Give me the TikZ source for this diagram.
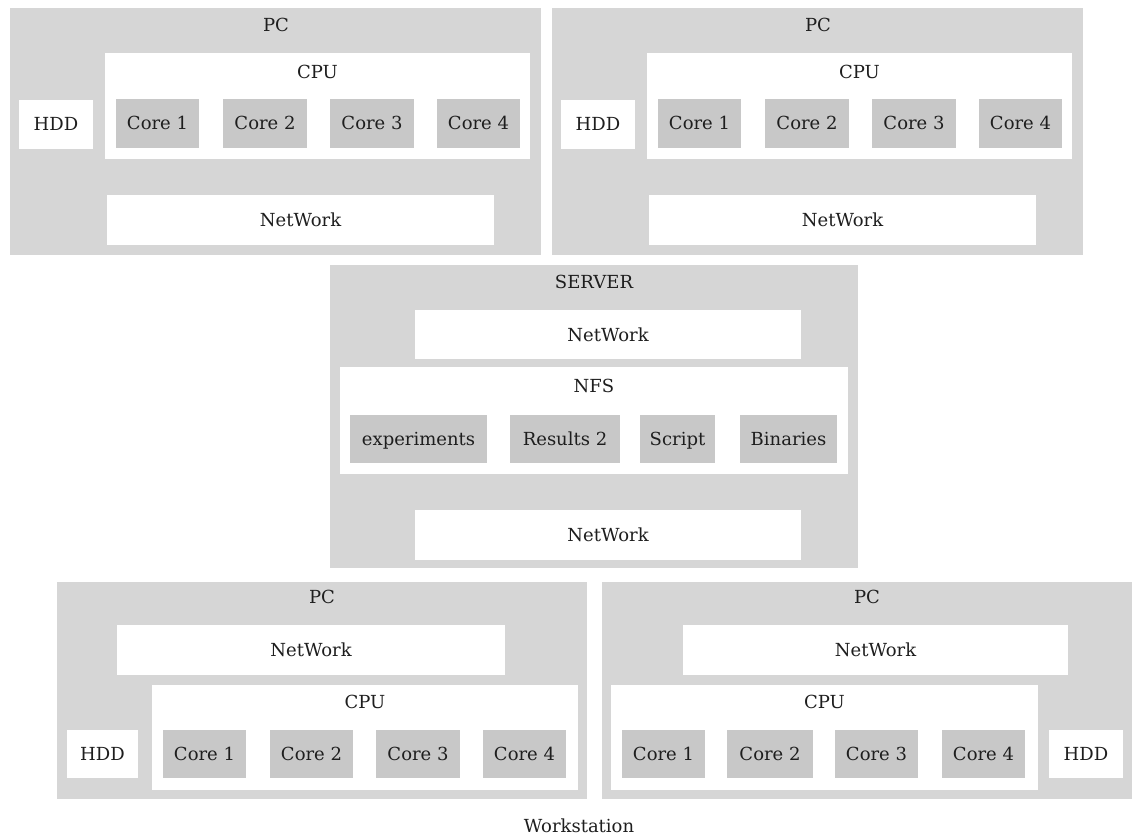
\documentclass[tikz,border=0pt]{standalone}
\usepackage{fontspec}
\setmainfont{DejaVu Serif}
\definecolor{shell}{RGB}{214,214,214}
\definecolor{unitgray}{RGB}{200,200,200}
\definecolor{ink}{RGB}{30,30,30}

\tikzset{
  blk/.style={rectangle, inner sep=0pt, outer sep=0pt, draw=none,
    font=\fontsize{18}{22}\selectfont, text=ink,
    text height=13pt, text depth=0pt},
  shellbox/.style={blk, fill=shell},
  panel/.style={blk, fill=white},
  unitbox/.style={blk, fill=unitgray},
  title/.style={inner sep=0pt, font=\fontsize{18}{22}\selectfont, text=ink,
    text height=13pt, text depth=0pt},
}

% name, style, x1, y1, x2, y2, text
\newcommand\boxnode[7]{%
  \node[#2, minimum width={((#5)-(#3))*1pt}, minimum height={((#6)-(#4))*1pt}]
    (#1) at ({((#3)+(#5))/2},{((#4)+(#6))/2}) {#7};}

% a PC of the upper row: prefix, left edge
\newcommand\toppc[2]{%
  \boxnode{#1}{shellbox}{#2}{8}{#2+531}{255}{}
  \node[title] (#1-t) at ({#2+266},25) {PC};
  \boxnode{#1-hdd}{panel}{#2+9}{100}{#2+83}{149}{HDD}
  \boxnode{#1-cpu}{panel}{#2+95}{53}{#2+520}{159}{}
  \node[title] (#1-cput) at ({#2+307.5},72) {CPU};
  \boxnode{#1-c1}{unitbox}{#2+106}{99}{#2+189}{148}{Core 1}
  \boxnode{#1-c2}{unitbox}{#2+213}{99}{#2+297}{148}{Core 2}
  \boxnode{#1-c3}{unitbox}{#2+320}{99}{#2+404}{148}{Core 3}
  \boxnode{#1-c4}{unitbox}{#2+427}{99}{#2+510}{148}{Core 4}
  \boxnode{#1-net}{panel}{#2+97}{195}{#2+484}{245}{NetWork}
}

\begin{document}
\begin{tikzpicture}[x=1pt, y=-1pt]
\useasboundingbox (0,0) rectangle (1139,837);

% upper row
\toppc{pcA}{10}
\toppc{pcB}{552}

% server
\boxnode{srv}{shellbox}{330}{265}{858}{568}{}
\node[title] (srv-t) at (594,282) {SERVER};
\boxnode{srv-net1}{panel}{415}{310}{801}{359}{NetWork}
\boxnode{nfs}{panel}{340}{367}{848}{474}{}
\node[title] (nfs-t) at (594,386) {NFS};
\boxnode{nfs-exp}{unitbox}{350}{415}{487}{463}{experiments}
\boxnode{nfs-res}{unitbox}{510}{415}{620}{463}{Results 2}
\boxnode{nfs-scr}{unitbox}{640}{415}{715}{463}{Script}
\boxnode{nfs-bin}{unitbox}{740}{415}{837}{463}{Binaries}
\boxnode{srv-net2}{panel}{415}{510}{801}{560}{NetWork}

% lower row, left
\boxnode{pcC}{shellbox}{57}{582}{587}{799}{}
\node[title] (pcC-t) at (322,597) {PC};
\boxnode{pcC-net}{panel}{117}{625}{505}{675}{NetWork}
\boxnode{pcC-cpu}{panel}{152}{685}{578}{790}{}
\node[title] (pcC-cput) at (365,702) {CPU};
\boxnode{pcC-hdd}{panel}{67}{730}{138}{778}{HDD}
\boxnode{pcC-c1}{unitbox}{163}{730}{246}{778}{Core 1}
\boxnode{pcC-c2}{unitbox}{270}{730}{353}{778}{Core 2}
\boxnode{pcC-c3}{unitbox}{376}{730}{460}{778}{Core 3}
\boxnode{pcC-c4}{unitbox}{483}{730}{566}{778}{Core 4}

% lower row, right
\boxnode{pcD}{shellbox}{602}{582}{1132}{799}{}
\node[title] (pcD-t) at (867,597) {PC};
\boxnode{pcD-net}{panel}{683}{625}{1068}{675}{NetWork}
\boxnode{pcD-cpu}{panel}{611}{685}{1038}{790}{}
\node[title] (pcD-cput) at (824.5,702) {CPU};
\boxnode{pcD-c1}{unitbox}{622}{730}{705}{778}{Core 1}
\boxnode{pcD-c2}{unitbox}{727}{730}{813}{778}{Core 2}
\boxnode{pcD-c3}{unitbox}{835}{730}{918}{778}{Core 3}
\boxnode{pcD-c4}{unitbox}{942}{730}{1025}{778}{Core 4}
\boxnode{pcD-hdd}{panel}{1049}{730}{1123}{778}{HDD}

\node[title] (ws) at (579,826) {Workstation};
\end{tikzpicture}
\end{document}
